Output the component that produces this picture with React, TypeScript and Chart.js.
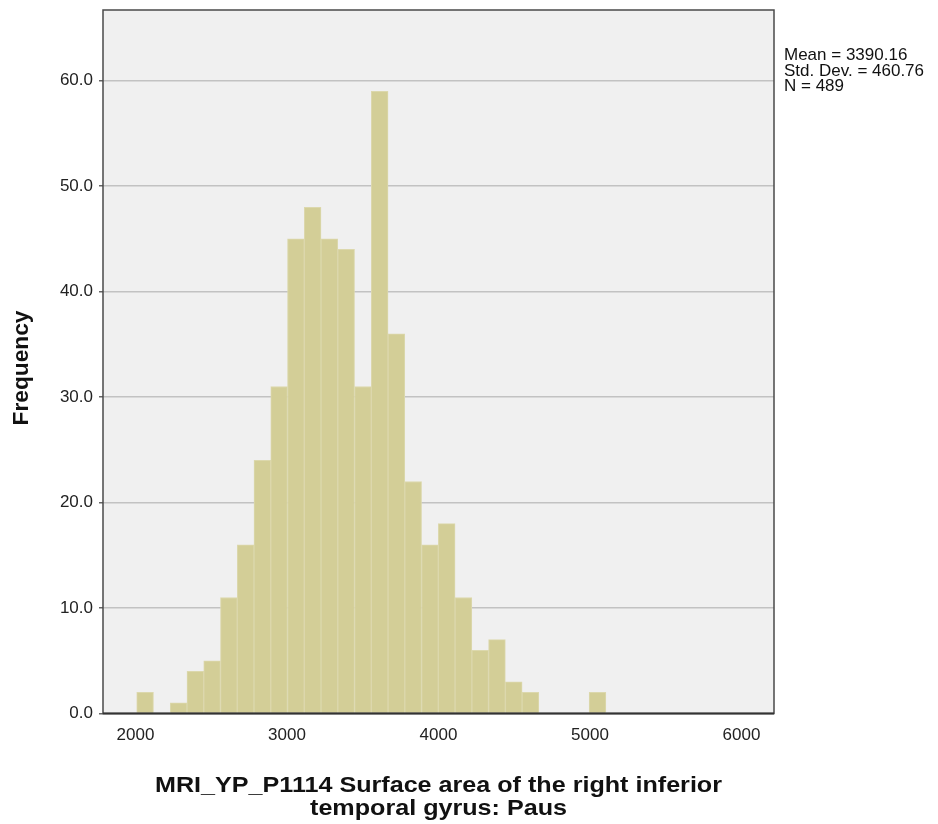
import React, { useEffect, useRef } from "react";
import { Chart, registerables } from "chart.js";

Chart.register(...registerables);

// Bin centres (data units) of the histogram
const binCenters = [
  2063.3, 2173.9, 2284.5, 2395.1, 2505.7, 2616.3, 2726.9, 2837.5, 2948.1, 3058.7,
  3169.3, 3279.9, 3390.5, 3501.1, 3611.7, 3722.3, 3832.9, 3943.5, 4054.1, 4164.7,
  4275.3, 4385.9, 4496.5, 4607.1, 4717.7, 4828.3, 4938.9, 5049.5,
];
// Frequencies per bin
const frequencies = [
  2, 0, 1, 4, 5, 11, 16, 24, 31, 45,
  48, 45, 44, 31, 59, 36, 22, 16, 18, 11,
  6, 7, 3, 2, 0, 0, 0, 2,
];
const xTicks = [2000, 3000, 4000, 5000, 6000];
const yTicks = [0, 10, 20, 30, 40, 50, 60];
const statsLines = ["Mean = 3390.16", "Std. Dev. = 460.76", "N = 489"];
const xTitleLines = ["MRI_YP_P1114 Surface area of the right inferior", "temporal gyrus: Paus"];
const yTitle = "Frequency";

const FONT = "'Liberation Sans', Arial, sans-serif";

const decorPlugin = {
  id: "decor",
  beforeDraw(chart: any) {
    const { ctx, chartArea: a } = chart;
    ctx.save();
    ctx.fillStyle = "#ffffff";
    ctx.fillRect(0, 0, chart.width, chart.height);
    ctx.fillStyle = "#f0f0f0";
    ctx.fillRect(a.left, a.top, a.right - a.left, a.bottom - a.top);
    ctx.restore();
  },
  afterDraw(chart: any) {
    const { ctx, chartArea: a } = chart;
    ctx.save();
    ctx.strokeStyle = "#4a4a4a";
    ctx.lineWidth = 1.5;
    ctx.strokeRect(a.left, a.top, a.right - a.left, a.bottom - a.top);
    ctx.beginPath();
    ctx.lineWidth = 2;
    ctx.strokeStyle = "#333";
    ctx.moveTo(a.left, a.bottom);
    ctx.lineTo(a.right, a.bottom);
    ctx.stroke();

    // stats
    ctx.fillStyle = "#111";
    ctx.font = `17px ${FONT}`;
    ctx.textAlign = "left";
    ctx.textBaseline = "alphabetic";
    statsLines.forEach((s, i) => ctx.fillText(s, a.right + 10, 60 + i * 15.5));

    // x title (slightly widened like the original rendering)
    ctx.font = `bold 22px ${FONT}`;
    ctx.textAlign = "center";
    ctx.textBaseline = "middle";
    const cx = (a.left + a.right) / 2;
    const w0 = ctx.measureText(xTitleLines[0]).width;
    const sx = 567 / w0;
    xTitleLines.forEach((s, i) => {
      ctx.save();
      ctx.translate(cx, 786 + i * 23);
      ctx.scale(sx, 1);
      ctx.fillText(s, 0, 0);
      ctx.restore();
    });

    // y title
    ctx.font = `bold 22px ${FONT}`;
    ctx.translate(22, 368);
    ctx.rotate(-Math.PI / 2);
    const wy = ctx.measureText(yTitle).width;
    ctx.scale(115 / wy, 1);
    ctx.fillText(yTitle, 0, 0);
    ctx.restore();
  },
};

export default function App() {
  const ref = useRef<HTMLCanvasElement>(null);
  useEffect(() => {
    if (!ref.current) return;
    const chart = new Chart(ref.current, {
      type: "bar",
      data: {
        datasets: [
          {
            data: binCenters.map((x, i) => ({ x, y: frequencies[i] })),
            backgroundColor: "#d3ce97",
            borderColor: "#dcd8ad",
            borderWidth: 1,
            barPercentage: 1,
            categoryPercentage: 1,
          },
        ],
      },
      options: {
        animation: false,
        responsive: false,
        maintainAspectRatio: false,
        layout: { padding: { left: 0, right: 164, top: 10, bottom: 0 } },
        plugins: { legend: { display: false }, tooltip: { enabled: false } },
        scales: {
          x: {
            type: "linear",
            offset: false,
            min: 1785.5,
            max: 6214.5,
            afterBuildTicks: (s: any) => {
              s.ticks = xTicks.map((v) => ({ value: v }));
            },
            afterFit: (s: any) => {
              s.height = 110.5;
              s.paddingLeft = 0;
              s.paddingRight = 0;
            },
            grid: { display: false, drawTicks: false },
            border: { display: false },
            ticks: {
              color: "#222",
              font: { family: FONT, size: 17 },
              padding: 12,
              maxRotation: 0,
              autoSkip: false,
              callback: (v: any) => String(v),
            },
          },
          y: {
            type: "linear",
            min: 0,
            max: 66.7,
            afterBuildTicks: (s: any) => {
              s.ticks = yTicks.map((v) => ({ value: v }));
            },
            afterFit: (s: any) => {
              s.width = 103;
              s.paddingTop = 0;
              s.paddingBottom = 0;
            },
            grid: {
              color: (c: any) => (c.tick && c.tick.value === 0 ? "rgba(0,0,0,0)" : "#c2c2c2"),
              lineWidth: 1.5,
              tickLength: 4,
              tickColor: "#666",
            },
            border: { display: false },
            ticks: {
              color: "#222",
              font: { family: FONT, size: 17 },
              padding: 6,
              callback: (v: any) => Number(v).toFixed(1),
            },
          },
        },
      },
      plugins: [decorPlugin],
    });
    return () => chart.destroy();
  }, []);
  return (
    <div style={{ position: "absolute", left: 0, top: 0, width: 938, height: 824 }}>
      <canvas ref={ref} width={938} height={824} style={{ width: 938, height: 824 }} />
    </div>
  );
}
